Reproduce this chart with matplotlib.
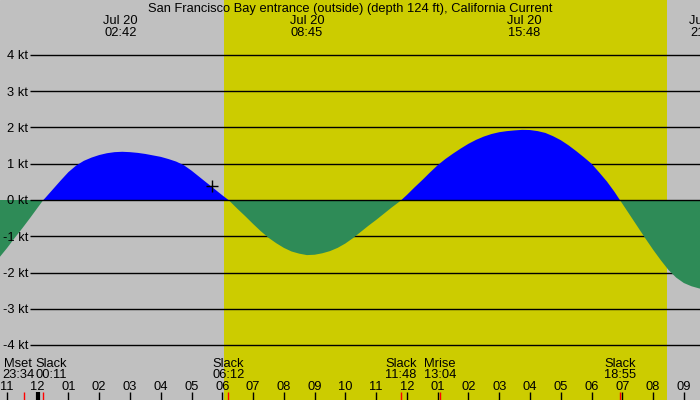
import matplotlib
matplotlib.use("Agg")
import matplotlib.pyplot as plt

plt.rcParams['font.family'] = ['Liberation Sans', 'DejaVu Sans']

title = "San Francisco Bay entrance (outside) (depth 124 ft), California Current"

# hours after midnight Jul 20 and current speed in knots
hours = [-1.5, -1.25, -1.0, -0.75, -0.5, -0.25, 0.0, 0.183,
         0.25, 0.5, 0.75, 1.0, 1.25, 1.5, 1.75, 2.0, 2.25, 2.5, 2.75, 3.0,
         3.25, 3.5, 3.75, 4.0, 4.25, 4.5, 4.75, 5.0, 5.25, 5.5, 5.75, 6.0, 6.2,
         6.25, 6.5, 6.75, 7.0, 7.25, 7.5, 7.75, 8.0, 8.25, 8.5, 8.75, 9.0,
         9.25, 9.5, 9.75, 10.0, 10.25, 10.5, 10.75, 11.0, 11.25, 11.5, 11.75, 11.82,
         12.0, 12.25, 12.5, 12.75, 13.0, 13.25, 13.5, 13.75, 14.0, 14.25, 14.5, 14.75,
         15.0, 15.25, 15.5, 15.75, 16.0, 16.25, 16.5, 16.75, 17.0, 17.25, 17.5, 17.75,
         18.0, 18.25, 18.5, 18.75, 18.92,
         19.0, 19.25, 19.5, 19.75, 20.0, 20.25, 20.5, 20.75, 21.0, 21.25, 21.5, 21.75, 22.0]
knots = [-1.85, -1.59, -1.33, -1.05, -0.78, -0.5, -0.21, 0.0,
         0.06, 0.30, 0.54, 0.77, 0.95, 1.08, 1.17, 1.24, 1.29, 1.32, 1.33, 1.32,
         1.30, 1.27, 1.23, 1.19, 1.13, 1.06, 0.96, 0.81, 0.64, 0.47, 0.30, 0.13, 0.0,
         -0.04, -0.25, -0.45, -0.66, -0.86, -1.04, -1.19, -1.32, -1.42, -1.48, -1.52, -1.51,
         -1.47, -1.41, -1.32, -1.2, -1.05, -0.88, -0.71, -0.55, -0.38, -0.21, -0.05, 0.0,
         0.14, 0.35, 0.55, 0.76, 0.96, 1.13, 1.28, 1.42, 1.55, 1.66, 1.75, 1.82,
         1.87, 1.90, 1.92, 1.935, 1.93, 1.90, 1.85, 1.76, 1.65, 1.51, 1.35, 1.18,
         1.0, 0.76, 0.51, 0.22, 0.0,
         -0.1, -0.42, -0.74, -1.06, -1.37, -1.66, -1.93, -2.14, -2.29, -2.38, -2.44, -2.47, -2.46]

levels = [4, 3, 2, 1, 0, -1, -2, -3, -4]

# max current times shown along the top
max_hours = [2.7, 8.75, 15.8, 21.73]
max_labels = ["02:42", "08:45", "15:48", "21:44"]

# events along the bottom
event_names = ["Mset", "Slack", "Slack", "Slack", "Mrise", "Slack"]
event_times = ["23:34", "00:11", "06:12", "11:48", "13:04", "18:55"]
event_hours = [-0.433, 0.183, 6.2, 11.8, 13.067, 18.917]
event_nudge = [-0.2, 0.26, 0, 0, 0, 0]

sunrise, sunset = 6.05, 20.45
now_hour, now_knots = 5.66, 0.39

fs = 9.25

fig = plt.figure(figsize=(7, 4), dpi=100)
ax = fig.add_axes([0, 0, 1, 1])
ax.set_xlim(-1.225, 21.525)
ax.set_ylim(-5.517, 5.517)
ax.axis('off')
ax.add_patch(plt.Rectangle((0, 0), 1, 1, transform=ax.transAxes, color='#c0c0c0', zorder=0))

ax.axvspan(sunrise, sunset, color='#cccc00', lw=0, zorder=1)

ytr = ax.get_yaxis_transform()
xtr = ax.get_xaxis_transform()

ax.hlines([l for l in levels if l != 0], 30 / 700, 1, transform=ytr, color='black', lw=1, zorder=2)
for l in levels:
    ax.text(28 / 700, l - 0.12, f"{l} kt", transform=ytr, ha='right', va='baseline',
            fontsize=fs, zorder=10)

ax.fill_between(hours, knots, 0, where=[k >= 0 for k in knots], interpolate=True,
                color='#0000ff', lw=0, zorder=3)
ax.fill_between(hours, knots, 0, where=[k <= 0 for k in knots], interpolate=True,
                color='#2e8b57', lw=0, zorder=3)
ax.hlines(0, 30 / 700, 1, transform=ytr, color='black', lw=1, zorder=4)

ax.plot(now_hour, now_knots, marker='+', color='black', ms=9, mew=1, zorder=5)

# title and max labels
ax.text(0.5, 1 - 11.7 / 400, title, transform=ax.transAxes, ha='center', va='baseline', fontsize=fs)
for h, lab in zip(max_hours, max_labels):
    ax.text(h, 1 - 24 / 400, "Jul 20", transform=xtr, ha='center', va='baseline', fontsize=fs)
    ax.text(h, 1 - 36 / 400, lab, transform=xtr, ha='center', va='baseline', fontsize=fs)

# hour ticks
for h in range(-1, 22):
    ax.vlines(h, 0, 8 / 400, transform=xtr, color='black', lw=3 if h == 0 else 1, zorder=5)
    ax.text(h, 1 - 389.5 / 400, f"{(h % 12) or 12:02d}", transform=xtr,
            ha='center', va='baseline', fontsize=fs)

# events
for name, t, h, dx in zip(event_names, event_times, event_hours, event_nudge):
    ax.vlines(h, 0, 8 / 400, transform=xtr, color='red', lw=1, zorder=6)
    ax.text(h + dx, 1 - 366.7 / 400, name, transform=xtr, ha='center', va='baseline', fontsize=fs)
    ax.text(h + dx, 1 - 377.7 / 400, t, transform=xtr, ha='center', va='baseline', fontsize=fs)

fig.savefig("out.png", dpi=100)
